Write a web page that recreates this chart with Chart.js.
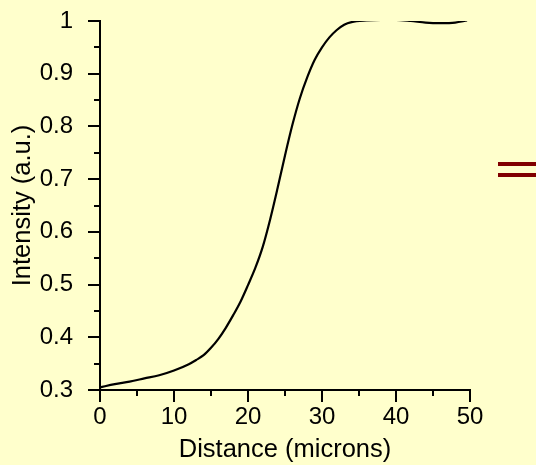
<!DOCTYPE html>
<html>
<head>
<meta charset="utf-8">
<script src="https://cdn.jsdelivr.net/npm/chart.js@4.4.0/dist/chart.umd.min.js"></script>
<style>
  html, body { margin: 0; padding: 0; background: #FFFFCC; }
  #wrap { position: relative; width: 536px; height: 465px; }
  canvas { display: block; }
  .eq { position: absolute; left: 498px; width: 38px; height: 4px; background: #800000; }
</style>
</head>
<body>
<div id="wrap">
  <canvas id="c" width="536" height="465"></canvas>
  <div class="eq" style="top:162px"></div>
  <div class="eq" style="top:173px"></div>
</div>
<script>
const distance  = [0, 2, 4, 6, 8, 10, 12, 13, 14, 15, 16, 17, 18, 19, 20, 21, 22, 23, 24, 25, 26, 27, 28, 29, 30, 31, 32, 33, 34, 36, 38, 40, 42, 44, 46, 48, 49.6];
const intensity = [0.305, 0.311, 0.316, 0.322, 0.328, 0.337, 0.349, 0.357, 0.366, 0.380, 0.397, 0.418, 0.442, 0.468, 0.499, 0.532, 0.572, 0.624, 0.683, 0.745, 0.803, 0.853, 0.893, 0.926, 0.950, 0.969, 0.983, 0.993, 0.998, 1.001, 1.002, 1.002, 1.000, 0.997, 0.996, 0.997, 1.001];
const xTitle = 'Distance (microns)';
const yTitle = 'Intensity (a.u.)';

const points = distance.map((d, i) => ({ x: d, y: intensity[i] }));

const tickPlugin = {
  id: 'ticks',
  afterDraw(chart) {
    const ctx = chart.ctx;
    ctx.save();
    ctx.strokeStyle = '#000';
    ctx.lineWidth = 2;
    const xs = chart.scales.x, ys = chart.scales.y;
    const ca = chart.chartArea;
    xs.ticks.forEach(t => {
      const px = Math.round(xs.getPixelForValue(t.value));
      const major = Math.abs(t.value % 10) < 1e-6;
      ctx.beginPath();
      ctx.moveTo(px, ca.bottom);
      ctx.lineTo(px, ca.bottom + (major ? 12 : 6));
      ctx.stroke();
    });
    ys.ticks.forEach(t => {
      const py = Math.round(ys.getPixelForValue(t.value));
      const v = Math.round(t.value * 100);
      const major = v % 10 === 0;
      ctx.beginPath();
      ctx.moveTo(ca.left, py);
      ctx.lineTo(ca.left - (major ? 12 : 6), py);
      ctx.stroke();
    });
    ctx.restore();
  }
};

new Chart(document.getElementById('c'), {
  type: 'line',
  data: {
    datasets: [{
      data: points,
      borderColor: '#000',
      borderWidth: 2.2,
      pointRadius: 0,
      fill: false,
      cubicInterpolationMode: 'monotone'
    }]
  },
  options: {
    responsive: false,
    animation: false,
    devicePixelRatio: 1,
    layout: { padding: { top: 21, right: 66, left: 0, bottom: 0 } },
    plugins: { legend: { display: false }, tooltip: { enabled: false } },
    scales: {
      x: {
        type: 'linear', min: 0, max: 50,
        grid: { display: false },
        border: { display: true, color: '#000', width: 2 },
        ticks: {
          stepSize: 5, autoSkip: false, maxRotation: 0, padding: 5,
          color: '#000', font: { family: 'Liberation Sans', size: 24 },
          callback: v => (Math.abs(v % 10) < 1e-6 ? String(v) : '')
        },
        title: { display: true, text: xTitle, color: '#000',
          font: { family: 'Liberation Sans', size: 25.5 }, padding: { top: 0, bottom: 0 } },
        afterFit: s => { s.height = 75; s.paddingLeft = 0; s.paddingRight = 0; }
      },
      y: {
        type: 'linear', min: 0.3, max: 1,
        grid: { display: false },
        border: { display: true, color: '#000', width: 2 },
        ticks: {
          stepSize: 0.05, autoSkip: false, padding: 19,
          color: '#000', font: { family: 'Liberation Sans', size: 24 },
          callback: v => {
            const k = Math.round(v * 100);
            return k % 10 === 0 ? String(k / 100) : '';
          }
        },
        title: { display: true, text: yTitle, color: '#000',
          font: { family: 'Liberation Sans', size: 25.5 }, padding: { top: 8, bottom: 8 } },
        afterFit: s => { s.width = 100; s.paddingTop = 0; s.paddingBottom = 0; }
      }
    }
  },
  plugins: [tickPlugin]
});
</script>
</body>
</html>
